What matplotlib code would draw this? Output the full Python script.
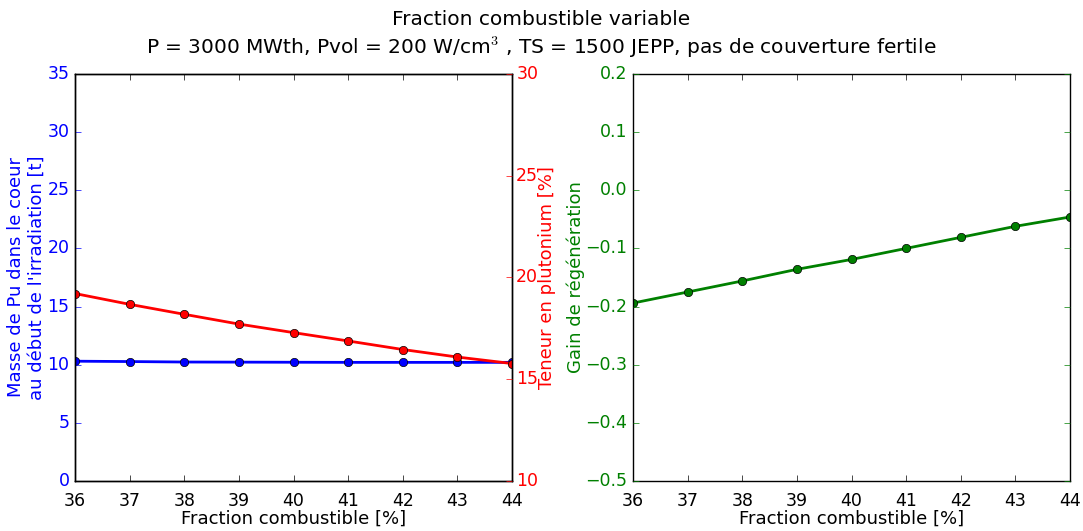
import matplotlib
matplotlib.use('Agg')
import matplotlib.pyplot as plt

plt.style.use('classic')
plt.rcParams['font.size'] = 13
plt.rcParams['ytick.labelsize'] = 12.5
plt.rcParams['xtick.labelsize'] = 12.5
plt.rcParams['xtick.major.pad'] = 8

# Donnees
fraction = [36, 37, 38, 39, 40, 41, 42, 43, 44]
masse_pu = [10.30, 10.27, 10.23, 10.22, 10.21, 10.20, 10.20, 10.20, 10.20]
teneur_pu = [19.21, 18.68, 18.19, 17.71, 17.29, 16.88, 16.46, 16.09, 15.77]
gain_regen = [-0.194, -0.175, -0.156, -0.136, -0.119, -0.100, -0.081, -0.062, -0.046]

fig = plt.figure(figsize=(10.83, 5.31), dpi=100, facecolor='white')

# Graphique de gauche : masse de Pu et teneur
ax1 = fig.add_axes([0.0693, 0.0942, 0.4035, 0.7665])
ax1.plot(fraction, masse_pu, 'bo-', linewidth=2, markersize=6)
ax1.set_xlim(36, 44)
ax1.set_ylim(0, 35)
ax1.set_xlabel('Fraction combustible [%]', labelpad=0)
ax1.set_ylabel("Masse de Pu dans le coeur\nau début de l'irradiation [t]", color='b', labelpad=1)
ax1.tick_params(axis='y', colors='b', pad=4)

ax2 = ax1.twinx()
ax2.plot(fraction, teneur_pu, 'ro-', linewidth=2, markersize=6)
ax2.set_xlim(36, 44)
ax2.set_ylim(10, 30)
ax2.set_yticks([10, 15, 20, 25, 30])
ax2.set_ylabel('Teneur en plutonium [%]', color='r', labelpad=0)
ax2.tick_params(axis='y', colors='r', pad=3)

# Graphique de droite : gain de regeneration
ax3 = fig.add_axes([0.5845, 0.0942, 0.4035, 0.7665])
ax3.plot(fraction, gain_regen, 'go-', linewidth=2, markersize=6)
ax3.set_xlim(36, 44)
ax3.set_ylim(-0.5, 0.2)
ax3.set_xlabel('Fraction combustible [%]', labelpad=0)
ax3.set_ylabel('Gain de régénération', color='g', labelpad=0)
ax3.tick_params(axis='y', colors='g', pad=4)

fig.suptitle('Fraction combustible variable\n'
             'P = 3000 MWth, Pvol = 200 W/cm$^3$ , TS = 1500 JEPP, pas de couverture fertile',
             fontsize=14.5, y=0.982, linespacing=1.3)

fig.savefig('out.png', dpi=100, facecolor='white')
